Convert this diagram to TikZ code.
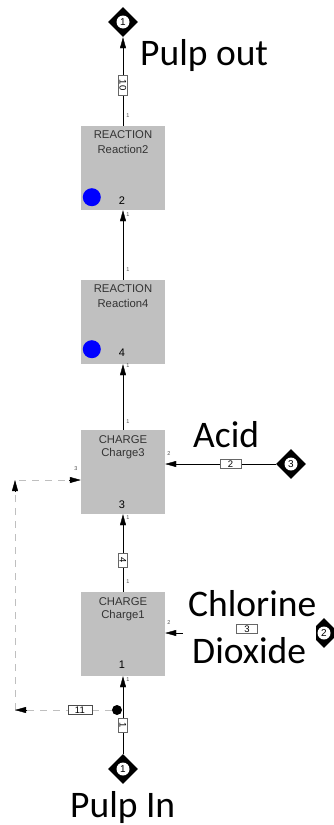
\documentclass[tikz,border=0pt]{standalone}
\usepackage{fontspec}
\setmainfont{Carlito}
\newfontfamily\unitfont{Liberation Sans}
\usetikzlibrary{shapes.geometric,arrows.meta}

\definecolor{unitgray}{RGB}{192,192,192}

\begin{document}
\begin{tikzpicture}[x=1pt, y=-1pt,
  unit/.style={fill=unitgray, minimum width=84pt, minimum height=84pt, inner sep=0pt},
  head/.style={font=\unitfont\fontsize{11.3}{12}\selectfont, text=black!80, inner sep=0pt},
  idx/.style={font=\unitfont\fontsize{11}{12}\selectfont, inner sep=0pt},
  portno/.style={font=\unitfont\fontsize{5.5}{6}\selectfont, text=black!70, inner sep=0pt},
  feed/.style={diamond, fill=black, minimum size=30pt, inner sep=0pt,
    font=\unitfont\fontsize{10}{10}\selectfont,
    path picture={\fill[white] (path picture bounding box.center) circle (6.5pt);}},
  tag/.style={draw=black!60, fill=white, thin, solid, text=black, inner xsep=3pt, inner ysep=1pt,
    minimum height=9pt, font=\unitfont\fontsize{9.5}{10}\selectfont},
  big/.style={font=\fontsize{37.5}{46}\selectfont, inner sep=0pt},
  flow/.style={thin, -{Triangle[length=11pt,width=6pt]}},
  recycle/.style={gray!50, thick, dash pattern=on 7pt off 6pt}]
  \useasboundingbox (0,0) rectangle (333,825);

  % draw units
  \node[unit] (rx2) at (123,168) {};
  \node[unit] (rx4) at (123,322) {};
  \node[unit] (ch3) at (123,472) {};
  \node[unit] (ch1) at (123,634) {};

  % unit texts
  \node[head] at ([yshift=-9pt]rx2.north) {REACTION};
  \node[head] at ([yshift=-24pt]rx2.north) {Reaction2};
  \node[idx] at ([xshift=-1pt,yshift=10pt]rx2.south) {2};
  \fill[blue] ([xshift=11pt,yshift=13pt]rx2.south west) circle (9pt);

  \node[head] at ([yshift=-9pt]rx4.north) {REACTION};
  \node[head] at ([yshift=-24pt]rx4.north) {Reaction4};
  \node[idx] at ([xshift=-1pt,yshift=11pt]rx4.south) {4};
  \fill[blue] ([xshift=11pt,yshift=15pt]rx4.south west) circle (9pt);

  \node[head] at ([yshift=-10pt]ch3.north) {CHARGE};
  \node[head] at ([yshift=-24pt]ch3.north) {Charge3};
  \node[idx] at ([xshift=-1pt,yshift=9pt]ch3.south) {3};

  \node[head] at ([yshift=-10pt]ch1.north) {CHARGE};
  \node[head] at ([yshift=-24pt]ch1.north) {Charge1};
  \node[idx] at ([xshift=-1pt,yshift=11pt]ch1.south) {1};

  % draw feeds and products
  \node[feed] (pout) at (123,22) {1};
  \node[feed] (pin) at (123,769) {1};
  \node[feed] (acid) at (291,464) {3};
  \node[feed] (clo) at (324,633) {2};

  % draw streams
  \draw[flow] (rx2.north) -- node[tag, rotate=-90, minimum width=20pt, pos=0.46] {10} (pout.south);
  \draw[flow] (rx4.north) -- (rx2.south);
  \draw[flow] (ch3.north) -- (rx4.south);
  \draw[flow] (ch1.north) -- node[tag, rotate=-90, minimum width=14pt, pos=0.41] {4} (ch3.south);
  \draw[flow] (pin.north) -- node[tag, rotate=-90, minimum width=14pt, pos=0.37] {1} (ch1.south);
  \draw[flow] (acid.west) -- node[tag, minimum width=21pt, pos=0.41] {2} (acid.west -| ch3.east);
  \draw[flow] (clo.west) -- (clo.west -| ch1.east);

  % recycle from splitter
  \node[circle, fill=black, minimum size=10pt, inner sep=0pt] (split) at (117,710) {};
  \coordinate (rc1) at (15,710);
  \coordinate (rc2) at (15,480);
  \draw[recycle] (split) -- node[tag, draw=black!70, minimum width=24pt, pos=0.33] {11} (rc1);
  \draw[recycle] (rc1) -- (rc2) -- (rc2 -| ch3.west);
  \draw[-{Triangle[length=11pt,width=6pt]}] ([xshift=12pt]rc1) -- (rc1);
  \draw[-{Triangle[length=11pt,width=6pt]}] ([yshift=-12pt]rc2) -- (rc2);
  \draw[-{Triangle[length=11pt,width=6pt]}] ([xshift=-12pt]rc2 -| ch3.west) -- (rc2 -| ch3.west);

  % port numbers
  \node[portno] at (128,116) {1};
  \node[portno] at (128,215) {1};
  \node[portno] at (128,270) {1};
  \node[portno] at (128,366) {1};
  \node[portno] at (128,422) {1};
  \node[portno] at (76,469) {3};
  \node[portno] at (169,454) {2};
  \node[portno] at (128,518) {1};
  \node[portno] at (128,582) {1};
  \node[portno] at (169,623) {2};
  \node[portno] at (128,680) {1};

  % stream names
  \node[big, anchor=base west] (poutname) at (140,65) {Pulp out};
  \node[big, anchor=base west] (acidname) at (193,447) {Acid};
  \node[big, anchor=base west] (pinname) at (70,817) {Pulp In};
  % hide the chlorine dioxide line behind its name
  \fill[white] (183,590) rectangle (316,672);
  \node[big, anchor=base west] (cloname1) at (188,616) {Chlorine};
  \node[big, anchor=base west] (cloname2) at (192,663) {Dioxide};
  \node[tag, minimum width=21pt] (clotag) at (247,629) {3};
\end{tikzpicture}
\end{document}
